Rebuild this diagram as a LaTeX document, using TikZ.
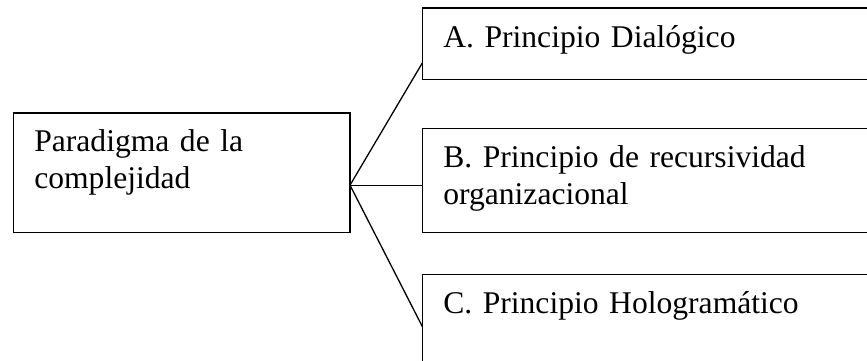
\documentclass[tikz,border=0pt]{standalone}
\usepackage{fontspec}
\setmainfont{Liberation Serif}
\usetikzlibrary{positioning}

\begin{document}
\begin{tikzpicture}[
    x=1pt, y=-1pt,
    box/.style={draw, line width=1.6pt, outer sep=0pt, anchor=north west, align=left, inner xsep=21pt, inner ysep=16.9pt, font=\fontsize{31.6}{37}\selectfont},
    sidebox/.style={box, text width=438pt},
    link/.style={line width=1.3pt}
]
\useasboundingbox (0,0) rectangle (867,361);
\clip (0,0) rectangle (867,361);
\node[box, text width=294.7pt, text depth=63.6pt] (par) at (13.3,113) {Paradigma de la\\complejidad};
\node[sidebox, text depth=15.6pt] (dial) at (422.3,8.3) {A. Principio Dialógico};
\node[sidebox, text depth=48.3pt] (rec) at (422.3,128.3) {B. Principio de recursividad\\organizacional};
\node[sidebox, text depth=64.6pt] (holo) at (422.3,274.3) {C. Principio Hologramático};
\coordinate (hub) at ([yshift=-12.5pt]par.east);
\draw[link] (hub) -- ([yshift=-19pt]dial.west);
\draw[link] (hub) -- (rec.west |- hub);
\draw[link] (hub) -- ([yshift=8pt]holo.west);
\end{tikzpicture}
\end{document}
